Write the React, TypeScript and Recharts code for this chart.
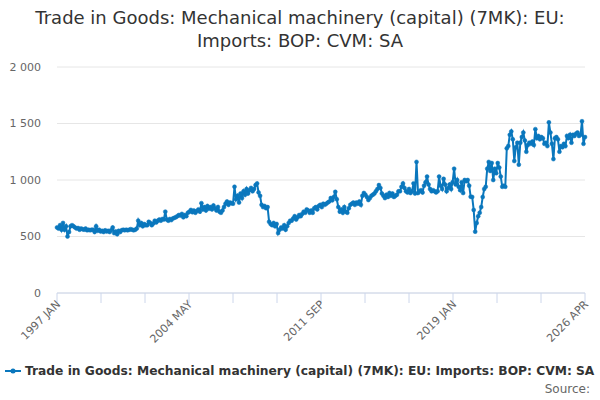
import React from "react";
import { LineChart, Line, XAxis, YAxis, CartesianGrid } from "recharts";

const TITLE_1 = "Trade in Goods: Mechanical machinery (capital) (7MK): EU:";
const TITLE_2 = "Imports: BOP: CVM: SA";
const SERIES_NAME = "Trade in Goods: Mechanical machinery (capital) (7MK): EU: Imports: BOP: CVM: SA";

const MONTHS = ["JAN", "FEB", "MAR", "APR", "MAY", "JUN", "JUL", "AUG", "SEP", "OCT", "NOV", "DEC"];
const FIRST_YEAR = 1997;

// monthly values, one row per year (1997 JAN .. 2026 APR)
const values1997 = [580, 570, 600, 560, 620, 560, 590, 500, 540, 590, 600, 590];
const values1998 = [580, 570, 575, 560, 570, 565, 560, 570, 555, 560, 555, 560];
const values1999 = [560, 540, 590, 550, 560, 545, 550, 540, 555, 545, 550, 540];
const values2000 = [555, 580, 530, 545, 520, 550, 540, 555, 560, 555, 560, 555];
const values2001 = [560, 565, 560, 555, 560, 570, 640, 600, 620, 590, 610, 600];
const values2002 = [600, 630, 620, 600, 615, 640, 625, 640, 650, 640, 655, 650];
const values2003 = [720, 650, 640, 655, 645, 660, 665, 670, 680, 690, 685, 700];
const values2004 = [670, 690, 680, 710, 720, 735, 715, 730, 710, 725, 740, 720];
const values2005 = [795, 740, 760, 730, 770, 745, 760, 740, 775, 750, 730, 760];
const values2006 = [720, 710, 730, 760, 790, 810, 780, 800, 795, 790, 940, 830];
const values2007 = [860, 800, 880, 840, 900, 870, 920, 880, 910, 930, 900, 920];
const values2008 = [955, 970, 890, 860, 780, 760, 770, 750, 760, 630, 610, 600];
const values2009 = [620, 590, 610, 530, 560, 580, 570, 600, 560, 590, 620, 640];
const values2010 = [640, 660, 680, 650, 670, 690, 680, 700, 720, 710, 740, 730];
const values2011 = [710, 730, 710, 750, 760, 740, 770, 780, 760, 790, 780, 790];
const values2012 = [800, 810, 840, 820, 850, 895, 830, 760, 720, 740, 710, 760];
const values2013 = [720, 710, 750, 780, 790, 800, 780, 800, 790, 810, 780, 860];
const values2014 = [885, 870, 850, 823, 840, 860, 870, 880, 900, 920, 955, 930];
const values2015 = [880, 860, 840, 870, 850, 885, 860, 880, 850, 860, 870, 900];
const values2016 = [900, 940, 970, 930, 900, 890, 920, 885, 900, 970, 880, 1160];
const values2017 = [885, 900, 910, 890, 950, 980, 1030, 960, 920, 900, 910, 900];
const values2018 = [890, 900, 1030, 950, 920, 1010, 960, 900, 930, 960, 920, 980];
const values2019 = [1100, 960, 1000, 940, 910, 980, 885, 1000, 990, 1000, 950, 852];
const values2020 = [850, 735, 543, 620, 680, 710, 760, 850, 920, 940, 1100, 1160];
const values2021 = [1080, 1150, 1000, 1100, 1060, 1150, 1110, 1030, 940, 950, 940, 1280];
const values2022 = [1300, 1400, 1430, 1360, 1168, 1290, 1330, 1136, 1330, 1380, 1420, 1350];
const values2023 = [1250, 1310, 1330, 1320, 1340, 1310, 1450, 1370, 1390, 1360, 1380, 1370];
const values2024 = [1320, 1330, 1300, 1510, 1420, 1320, 1185, 1370, 1380, 1360, 1250, 1300];
const values2025 = [1290, 1320, 1300, 1390, 1370, 1400, 1330, 1400, 1390, 1410, 1420, 1390];
const values2026 = [1400, 1520, 1320, 1380];

const ALL_VALUES = [
  values1997, values1998, values1999, values2000, values2001, values2002, values2003,
  values2004, values2005, values2006, values2007, values2008, values2009, values2010,
  values2011, values2012, values2013, values2014, values2015, values2016, values2017,
  values2018, values2019, values2020, values2021, values2022, values2023, values2024,
  values2025, values2026,
];

const Y_TICKS = [0, 500, 1000, 1500, 2000];

const data = ALL_VALUES.flatMap((row, y) =>
  row.map((v, m) => ({ label: `${FIRST_YEAR + y} ${MONTHS[m]}`, value: v }))
).map((d, i) => ({ ...d, i }));

const LAST = data.length - 1;
// 13 evenly spaced ticks, every third one labelled
const X_TICKS = Array.from({ length: 13 }, (_, k) => (k * LAST) / 12);

const FONT = "'DejaVu Sans', sans-serif";
const BLUE = "#0a77bd";

const fmtY = (v: number) => (v >= 1000 ? `${Math.floor(v / 1000)} ${String(v % 1000).padStart(3, "0")}` : `${v}`);

function XTick(props: any) {
  const { x, y, payload } = props;
  const k = Math.round((payload.value * 12) / LAST);
  if (k % 3 !== 0) return null;
  const label = data[Math.ceil(payload.value - 1e-9)].label;
  return (
    <text
      x={x + 4}
      y={y}
      transform={`rotate(-45 ${x + 4} ${y})`}
      textAnchor="end"
      fontSize={11}
      fontFamily={FONT}
      fill="#666"
    >
      {label}
    </text>
  );
}

export default function App() {
  return (
    <div style={{ position: "absolute", left: 0, top: 0, width: 600, height: 400, background: "#fff", fontFamily: FONT }}>
      <div style={{ position: "absolute", top: 6, left: 0, width: 600, textAlign: "center", fontSize: 18, lineHeight: "23px", color: "#333" }}>
        <div>{TITLE_1}</div>
        <div>{TITLE_2}</div>
      </div>
      <LineChart width={600} height={400} data={data} margin={{ top: 67, right: 15, bottom: 47, left: 0 }}>
        <CartesianGrid vertical={false} stroke="#e6e6e6" />
        <XAxis
          dataKey="i"
          type="number"
          domain={[0, LAST]}
          ticks={X_TICKS}
          interval={0}
          height={60}
          axisLine={{ stroke: "#ccd6eb" }}
          tickLine={{ stroke: "#ccd6eb" }}
          tickSize={10}
          tickMargin={2}
          tick={<XTick />}
        />
        <YAxis
          domain={[0, 2000]}
          ticks={Y_TICKS}
          width={57}
          axisLine={false}
          tickLine={false}
          tickMargin={10}
          tickFormatter={fmtY}
          tick={{ fontSize: 11, fill: "#666", fontFamily: FONT }}
        />
        <Line
          type="linear"
          dataKey="value"
          stroke={BLUE}
          strokeWidth={2}
          dot={{ r: 2, fill: BLUE, stroke: BLUE, strokeWidth: 0.5 }}
          isAnimationActive={false}
        />
      </LineChart>
      <div style={{ position: "absolute", top: 364, left: 4, display: "flex", alignItems: "center", whiteSpace: "nowrap" }}>
        <svg width={18} height={12}>
          <line x1={1} y1={6} x2={17} y2={6} stroke={BLUE} strokeWidth={2} />
          <circle cx={9} cy={6} r={2.5} fill={BLUE} />
        </svg>
        <span style={{ marginLeft: 3, fontSize: 12.25, fontWeight: "bold", color: "#333" }}>{SERIES_NAME}</span>
      </div>
      <div style={{ position: "absolute", top: 382, right: 10, fontSize: 12, color: "#666" }}>Source:</div>
    </div>
  );
}
